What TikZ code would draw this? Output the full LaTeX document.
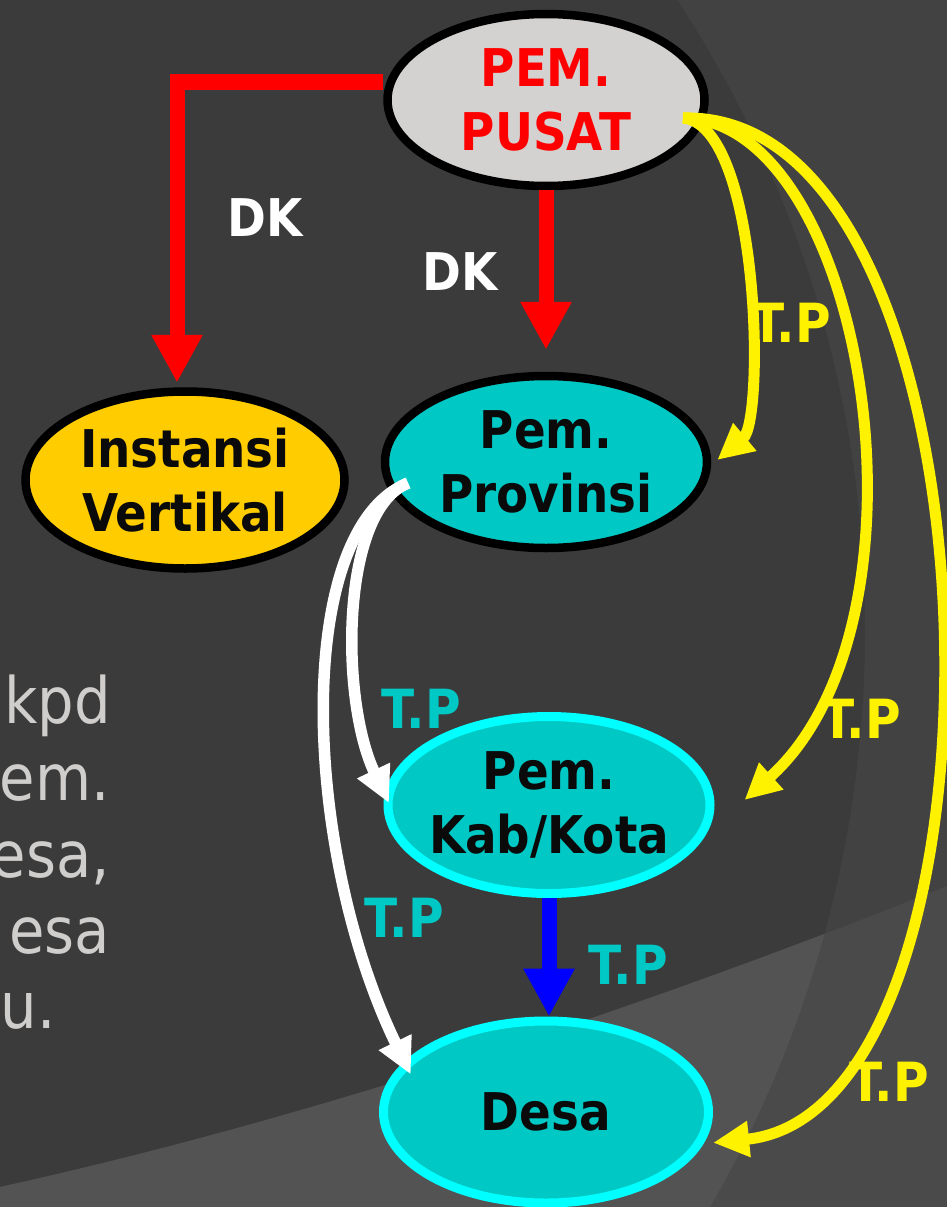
\documentclass[tikz,border=0pt]{standalone}
\usepackage{fontspec}
\setmainfont{DejaVu Sans}[FakeStretch=0.9]
\usetikzlibrary{shapes.geometric,arrows.meta}
\definecolor{bgdark}{HTML}{3B3B3B}
\definecolor{bgmid}{HTML}{424242}
\definecolor{bglow}{HTML}{535353}
\definecolor{bglowout}{HTML}{4A4A4A}
\definecolor{pusatfill}{HTML}{D4D2D0}
\definecolor{gold}{HTML}{FFCC00}
\definecolor{tealfill}{HTML}{00C8C4}
\definecolor{cyanline}{HTML}{00FFFF}
\definecolor{graytext}{HTML}{D0CECC}
\definecolor{ink}{HTML}{0A0A0A}
\begin{document}
\begin{tikzpicture}[x=1pt,y=-1pt,
  oval/.style={ellipse, line width=8.5pt, inner xsep=-30pt, inner ysep=-10pt, align=center, text=ink,
    font=\fontsize{52}{64}\selectfont\bfseries},
  redarrow/.style={draw=red, line width=15pt, -{Triangle[length=48pt,width=48pt]}},
  bluearrow/.style={draw=blue, line width=15pt, -{Triangle[length=48pt,width=48pt]}},
  ytp/.style={draw=yellow, line width=11pt, -{Triangle[length=36pt,width=34pt]}},
  wtp/.style={draw=white, line width=11.5pt, -{Triangle[length=36pt,width=34pt]}},
  lbl/.style={inner sep=0pt, font=\fontsize{54}{60}\selectfont\bfseries},
  side/.style={inner sep=0pt, anchor=base east, text=graytext, font=\fontsize{64}{76}\selectfont}
]
\useasboundingbox (0,0) rectangle (947,1207);
% background
\fill[bgmid] (0,0) rectangle (947,1207);
\fill[bgdark] (-285,630) circle[radius=1150];
\fill[bglowout] (0,1187) .. controls (350,1110) and (700,985) .. (947,886) -- (947,1207) -- (0,1207) -- cycle;
\begin{scope}
  \clip (-285,630) circle[radius=1150];
  \fill[bglow] (0,1187) .. controls (350,1110) and (700,985) .. (947,886) -- (947,1207) -- (0,1207) -- cycle;
\end{scope}
% side text
\begin{scope}
  \clip (0,0) rectangle (947,1207);
  \node[side] (s1) at (111,723) {kpd};
  \node[side] (s2) at (110,800) {em.};
  \node[side] (s3) at (110,877) {esa,};
  \node[side] (s4) at (110,953) {esa};
  \node[side] (s5) at (56,1028) {u.};
\end{scope}
% nodes
\node[oval, draw=black, fill=pusatfill, text=red, minimum width=317pt, minimum height=172pt] (pusat) at (546,100) {PEM.\\PUSAT};
\node[oval, draw=black, fill=gold, minimum width=319pt, minimum height=177pt] (inst) at (185,480) {Instansi\\Vertikal};
\node[oval, draw=black, fill=tealfill, minimum width=322pt, minimum height=172pt] (prov) at (546,462) {Pem.\\Provinsi};
\node[oval, draw=cyanline, line width=9pt, fill=tealfill, minimum width=322pt, minimum height=177pt] (kab) at (549,805) {Pem.\\Kab/Kota};
\node[oval, draw=cyanline, line width=9pt, fill=tealfill, minimum width=325pt, minimum height=182pt] (desa) at (546,1112) {Desa};
% red DK arrows
\draw[redarrow] ([yshift=18pt]pusat.west) -| ([xshift=-8pt,yshift=4.5pt]inst.north);
\draw[redarrow] (pusat.south) -- ([yshift=22pt]prov.north);
% blue arrow
\draw[bluearrow] (kab.south) -- (kab.south |- desa.north);
% yellow arrows
\coordinate (ys) at (683,118);
\draw[ytp] (ys) .. controls (760,125) and (765,420) .. ([xshift=6pt,yshift=2pt]prov.east);
\draw[ytp] (ys) .. controls (865,120) and (945,620) .. ([xshift=30pt,yshift=5pt]kab.east);
\draw[ytp] (ys) .. controls (1010,110) and (1030,1110) .. ([xshift=9pt]desa.-11);
% white arrows
\coordinate (ws) at (408,483);
\draw[wtp] (ws) .. controls (340,510) and (340,700) .. ([xshift=5.5pt,yshift=2pt]kab.west);
\draw[wtp] (ws) .. controls (292,530) and (302,850) .. ([xshift=16pt,yshift=-3pt]desa.165);
% labels
\node[lbl, text=white, font=\fontsize{52}{60}\selectfont\bfseries] (dk1) at (265,218) {DK};
\node[lbl, text=white, font=\fontsize{52}{60}\selectfont\bfseries] (dk2) at (460,272) {DK};
\node[lbl, text=yellow] (tp1) at (791,323) {T.P};
\node[lbl, text=yellow] (tp2) at (861,719) {T.P};
\node[lbl, text=yellow] (tp3) at (889,1082) {T.P};
\node[lbl, text=tealfill] (tp4) at (421,709) {T.P};
\node[lbl, text=tealfill] (tp5) at (404,918) {T.P};
\node[lbl, text=tealfill] (tp6) at (628,965) {T.P};
\end{tikzpicture}
\end{document}
